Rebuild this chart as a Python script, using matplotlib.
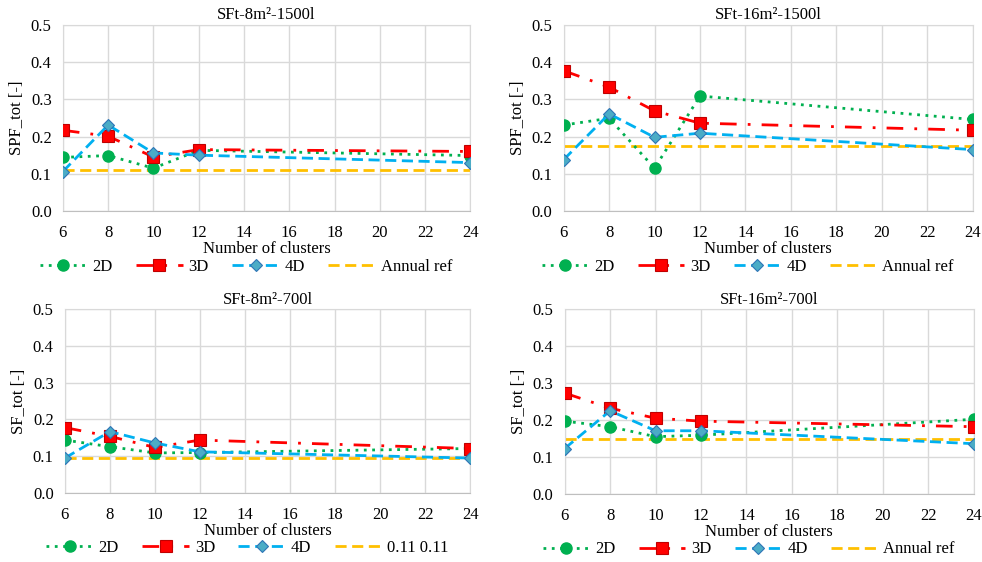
import matplotlib
matplotlib.use("Agg")
import matplotlib.pyplot as plt

plt.rcParams['font.family'] = ['Liberation Serif', 'DejaVu Serif']

clusters = [6, 8, 10, 12, 24]
xticks = [6, 8, 10, 12, 14, 16, 18, 20, 22, 24]
yticks = [0.0, 0.1, 0.2, 0.3, 0.4, 0.5]

titles = ["SFt-8m²-1500l", "SFt-16m²-1500l", "SFt-8m²-700l", "SFt-16m²-700l"]
ylabels = ["SPF_tot [-]", "SPF_tot [-]", "SF_tot [-]", "SF_tot [-]"]
ref_labels = ["Annual ref", "Annual ref", "0.11 0.11", "Annual ref"]

s2d = [
    [0.144, 0.149, 0.115, 0.163, 0.149],
    [0.231, 0.249, 0.115, 0.309, 0.246],
    [0.144, 0.126, 0.109, 0.110, 0.121],
    [0.197, 0.182, 0.155, 0.159, 0.202],
]
s3d = [
    [0.217, 0.201, 0.145, 0.165, 0.160],
    [0.377, 0.333, 0.269, 0.236, 0.217],
    [0.178, 0.154, 0.124, 0.144, 0.121],
    [0.273, 0.232, 0.205, 0.197, 0.182],
]
s4d = [
    [0.106, 0.231, 0.156, 0.150, 0.130],
    [0.138, 0.261, 0.198, 0.209, 0.165],
    [0.095, 0.167, 0.136, 0.112, 0.095],
    [0.123, 0.225, 0.171, 0.171, 0.136],
]
annual_ref = [0.110, 0.174, 0.096, 0.150]

positions = [
    [0.064, 0.6246, 0.415, 0.331],
    [0.574, 0.6246, 0.4165, 0.331],
    [0.066, 0.1228, 0.413, 0.327],
    [0.575, 0.1210, 0.4165, 0.329],
]

fig = plt.figure(figsize=(9.82, 5.62), dpi=100)

FS = 12
for i in range(4):
    ax = fig.add_axes(positions[i])
    ax.plot(clusters, s2d[i], linestyle=(0, (1, 2)), color='#00B050', lw=2,
            marker='o', ms=8, mfc='#00B050', mec='#00B050', label='2D', zorder=3)
    ax.plot(clusters, s3d[i], linestyle=(0, (6, 4, 1, 4)), color='#FF0000', lw=2,
            marker='s', ms=8, mfc='#FF0000', mec='#C00000', mew=0.8, label='3D', zorder=3)
    ax.plot(clusters, s4d[i], linestyle=(0, (4, 2)), color='#00B0F0', lw=2,
            marker='D', ms=6.5, mfc='#4BACC6', mec='#2E75B6', mew=0.8, label='4D', zorder=3)
    ax.plot([clusters[0], clusters[-1]], [annual_ref[i], annual_ref[i]],
            linestyle=(0, (4, 2)), color='#FFC000', lw=2, label=ref_labels[i], zorder=2)
    ax.set_xlim(6, 24)
    ax.set_ylim(0, 0.5)
    ax.set_xticks(xticks)
    ax.set_yticks(yticks)
    ax.set_yticklabels([f"{v:.1f}" for v in yticks])
    ax.grid(True, color='#D9D9D9', lw=1)
    ax.set_axisbelow(True)
    for sp in ['top', 'right', 'left']:
        ax.spines[sp].set_color('#D9D9D9')
    ax.spines['bottom'].set_color('#BFBFBF')
    ax.tick_params(axis='x', length=0, labelsize=FS, pad=10)
    ax.tick_params(axis='y', length=0, labelsize=FS, pad=8)
    ax.set_title(titles[i], fontsize=FS, pad=4)
    ax.set_xlabel("Number of clusters", fontsize=FS, labelpad=0)
    ax.set_ylabel(ylabels[i], fontsize=FS, labelpad=4)
    ax.legend(loc='center', bbox_to_anchor=(0.45, -0.30), ncol=4, frameon=False,
              fontsize=FS, handlelength=2.8, columnspacing=1.4, handletextpad=0.35,
              borderaxespad=0, borderpad=0)

fig.savefig("out.png", dpi=100)
